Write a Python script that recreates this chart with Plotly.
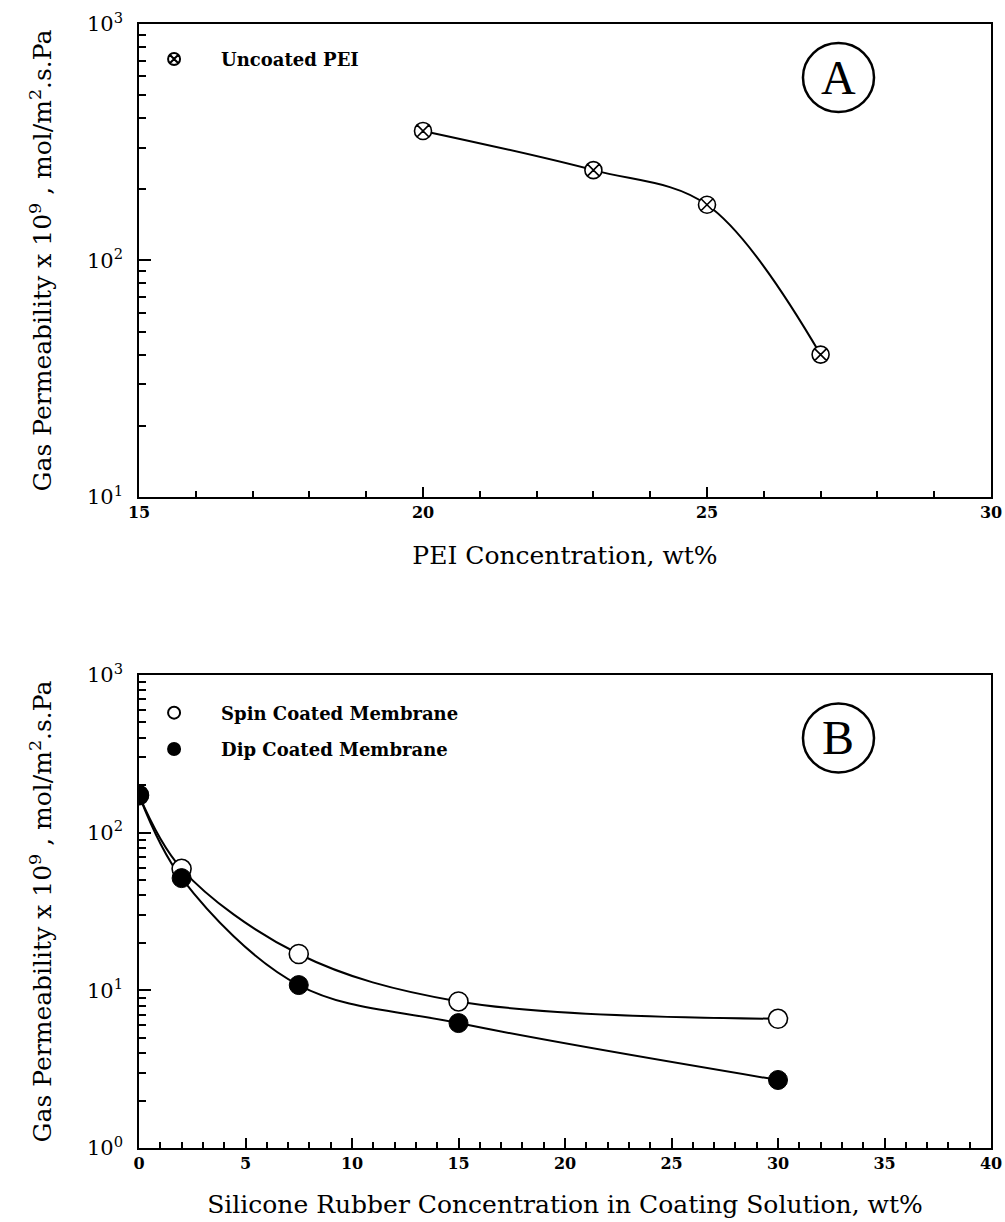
import plotly.graph_objects as go
from plotly.subplots import make_subplots

# Panel A data
pei_conc = [20, 23, 25, 27]
pei_perm = [353, 241, 172, 40]

# Panel B data
sr_conc = [0, 2, 7.5, 15, 30]
spin_perm = [173, 59, 17, 8.5, 6.6]
dip_perm = [173, 51.5, 10.8, 6.2, 2.7]

yA_ticks = [10, 100, 1000]
yA_text = ["10<sup>1</sup>", "10<sup>2</sup>", "10<sup>3</sup>"]
yB_ticks = [1, 10, 100, 1000]
yB_text = ["10<sup>0</sup>", "10<sup>1</sup>", "10<sup>2</sup>", "10<sup>3</sup>"]

FONT = "DejaVu Serif"
BLACK = "black"

fig = make_subplots(rows=2, cols=1, vertical_spacing=0.0)

line_style = dict(color=BLACK, width=2, shape="spline", smoothing=1.0)

# Panel A
fig.add_trace(go.Scatter(x=pei_conc, y=pei_perm, mode="lines", line=line_style,
                         showlegend=False, hoverinfo="skip"), row=1, col=1)
fig.add_trace(go.Scatter(
    x=pei_conc, y=pei_perm, mode="markers", name="Uncoated PEI",
    marker=dict(symbol="circle-x", size=17, color="white", line=dict(width=1.6, color=BLACK)),
    legend="legend"), row=1, col=1)

# Panel B
fig.add_trace(go.Scatter(x=sr_conc, y=spin_perm, mode="lines", line=line_style,
                         showlegend=False, hoverinfo="skip"), row=2, col=1)
fig.add_trace(go.Scatter(x=sr_conc, y=dip_perm, mode="lines", line=line_style,
                         showlegend=False, hoverinfo="skip"), row=2, col=1)
fig.add_trace(go.Scatter(
    x=sr_conc, y=spin_perm, mode="markers", name="Spin Coated Membrane",
    marker=dict(symbol="circle", size=19, color="white", line=dict(width=1.6, color=BLACK)),
    legend="legend2", legendgroup="spin"), row=2, col=1)
fig.add_trace(go.Scatter(
    x=sr_conc, y=dip_perm, mode="markers", name="Dip Coated Membrane",
    marker=dict(symbol="circle", size=19, color=BLACK, line=dict(width=1, color=BLACK)),
    legend="legend2", legendgroup="dip"), row=2, col=1)

top_dom = [0.5792, 1.0]
bot_dom = [0.0, 0.4208]

axis_common = dict(showline=True, linecolor=BLACK, linewidth=1.5, mirror=True,
                   ticks="inside", tickcolor=BLACK, showgrid=False, zeroline=False,
                   automargin=False)

xtickfont = dict(family=FONT, size=16, color=BLACK, weight="bold")
ytickfont = dict(family=FONT, size=21, color=BLACK)
title_font = dict(family=FONT, size=25, color=BLACK)

ytitle = "Gas Permeability x 10<sup>9</sup> , mol/m<sup>2</sup>.s.Pa"

fig.update_xaxes(range=[15, 30], tickvals=[15, 20, 25, 30], ticklen=10, tickwidth=1.5,
                 tickfont=xtickfont,
                 minor=dict(tickvals=list(range(15, 31)), ticklen=6, ticks="inside", tickcolor=BLACK),
                 title=dict(text="PEI Concentration, wt%", font=title_font, standoff=26),
                 domain=[0, 1], row=1, col=1, **axis_common)
fig.update_xaxes(range=[0, 40], tickvals=list(range(0, 41, 5)), ticklen=10, tickwidth=1.5,
                 tickfont=xtickfont,
                 minor=dict(tickvals=list(range(0, 41)), ticklen=6, ticks="inside", tickcolor=BLACK),
                 title=dict(text="Silicone Rubber Concentration in Coating Solution, wt%",
                            font=title_font, standoff=24),
                 domain=[0, 1], row=2, col=1, **axis_common)

minorA = [m * d for d in (10, 100) for m in range(2, 10)]
minorB = [m * d for d in (1, 10, 100) for m in range(2, 10)]

fig.update_yaxes(type="log", range=[1, 3], tickvals=yA_ticks, ticktext=yA_text, ticklen=12, tickwidth=1.5,
                 tickfont=ytickfont, ticklabelstandoff=10,
                 minor=dict(tickvals=minorA, ticklen=7, ticks="inside", tickcolor=BLACK),
                 title=dict(text=ytitle, font=title_font, standoff=28),
                 domain=top_dom, row=1, col=1, **axis_common)
fig.update_yaxes(type="log", range=[0, 3], tickvals=yB_ticks, ticktext=yB_text, ticklen=12, tickwidth=1.5,
                 tickfont=ytickfont, ticklabelstandoff=10,
                 minor=dict(tickvals=minorB, ticklen=7, ticks="inside", tickcolor=BLACK),
                 title=dict(text=ytitle, font=title_font, standoff=28),
                 domain=bot_dom, row=2, col=1, **axis_common)

legend_font = dict(family=FONT, size=18, color=BLACK, weight="bold")
fig.update_layout(
    width=1005, height=1222,
    margin=dict(l=139, r=14, t=24, b=74, autoexpand=False),
    paper_bgcolor="white", plot_bgcolor="white",
    legend=dict(x=-0.014, y=0.985, xanchor="left", yanchor="top", font=legend_font,
                bgcolor="rgba(0,0,0,0)", itemsizing="constant", itemwidth=84),
    legend2=dict(x=-0.014, y=0.4035, xanchor="left", yanchor="top", font=legend_font,
                 bgcolor="rgba(0,0,0,0)", itemsizing="constant", itemwidth=84, tracegroupgap=10),
)

# Circled panel letters
for cy, letter in ((0.9524, "A"), (0.3648, "B")):
    fig.add_shape(type="circle", xref="paper", yref="paper",
                  x0=0.821 - 0.0417, x1=0.821 + 0.0417, y0=cy - 0.0307, y1=cy + 0.0307,
                  line=dict(color=BLACK, width=2.5))
    fig.add_annotation(x=0.821, y=cy, xref="paper", yref="paper", text=letter, showarrow=False,
                       xanchor="center", yanchor="middle",
                       font=dict(family="Liberation Serif", size=48, color=BLACK))

fig.write_html("out.html", config={"displayModeBar": False},
               post_script="document.body.style.margin='0';document.body.style.overflow='hidden';")
